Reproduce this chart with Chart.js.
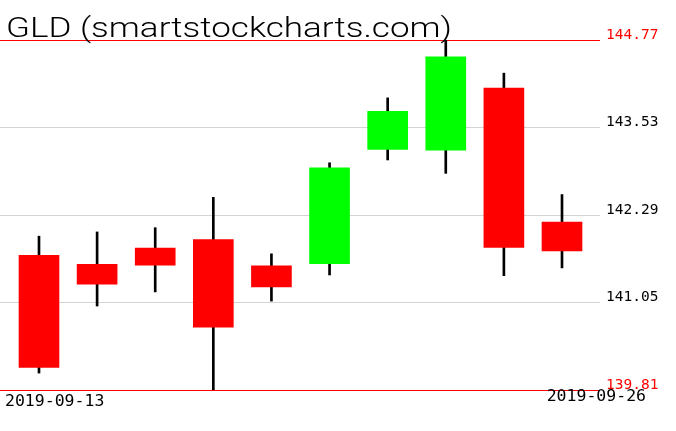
<!DOCTYPE html>
<html>
<head>
<meta charset="utf-8">
<script src="https://cdn.jsdelivr.net/npm/chart.js@4/dist/chart.umd.min.js"></script>
<style>
  html, body { margin: 0; padding: 0; background: #fff; }
</style>
</head>
<body>
<canvas id="gldChart" width="676" height="431"></canvas>
<script>
const title = "GLD (smartstockcharts.com)";
const dates = ["2019-09-13", "2019-09-16", "2019-09-17", "2019-09-18", "2019-09-19",
  "2019-09-20", "2019-09-23", "2019-09-24", "2019-09-25", "2019-09-26"];
const open = [141.72, 141.59, 141.82, 141.94, 141.57, 141.60, 143.22, 143.21, 144.09, 142.19];
const high = [141.99, 142.05, 142.11, 142.54, 141.74, 143.03, 143.95, 144.77, 144.30, 142.58];
const low = [140.05, 141.00, 141.20, 139.81, 141.07, 141.44, 143.07, 142.88, 141.43, 141.54];
const close = [140.13, 141.31, 141.58, 140.70, 141.27, 142.96, 143.76, 144.53, 141.83, 141.78];
const yTicks = [139.81, 141.05, 142.29, 143.53, 144.77];

const yMin = yTicks[0];
const yMax = yTicks[yTicks.length - 1];

// candle body colour: green when it closed up, red when down
const bodyColors = open.map((o, i) => (close[i] >= o ? "#00ff00" : "#ff0000"));

// title and the two date labels
const overlay = {
  id: "overlay",
  afterDraw(chart) {
    const c = chart.ctx;
    const area = chart.chartArea;
    c.save();
    c.fillStyle = "#000";
    c.font = "300 27px Roboto";
    const w = c.measureText(title).width;
    c.translate(area.left + 6, 37);
    c.scale(446 / w, 1);
    c.fillText(title, 0, 0);
    c.restore();

    c.save();
    c.fillStyle = "#000";
    c.font = "16.5px 'DejaVu Sans Mono'";
    c.textAlign = "left";
    c.fillText(dates[0], area.left + 5, area.bottom + 16);
    c.textAlign = "right";
    c.fillText(dates[dates.length - 1], area.right + 46, area.bottom + 11);
    c.restore();
  },
};

const ctx = document.getElementById("gldChart").getContext("2d");
const chart = new Chart(ctx, {
  type: "bar",
  data: {
    datasets: [
      {
        label: "body",
        data: dates.map((d, i) => ({ x: i, y: [open[i], close[i]] })),
        backgroundColor: bodyColors,
        borderWidth: 0,
        barThickness: 40,
        grouped: false,
      },
      {
        label: "wick",
        data: dates.map((d, i) => ({ x: i, y: [low[i], high[i]] })),
        backgroundColor: "#000",
        borderWidth: 0,
        barThickness: 2,
        grouped: false,
      },
    ],
  },
  options: {
    responsive: false,
    animation: false,
    layout: { padding: { top: 40, bottom: 41, left: 0, right: 0 } },
    plugins: {
      legend: { display: false },
      tooltip: { enabled: false },
    },
    scales: {
      x: {
        type: "linear",
        offset: false,
        min: -0.671,
        max: 9.654,
        display: false,
      },
      y: {
        position: "right",
        min: yMin,
        max: yMax,
        afterBuildTicks: (scale) => {
          scale.ticks = yTicks.map((v) => ({ value: v }));
        },
        afterFit: (scale) => {
          scale.width = 76;
        },
        border: { display: false },
        grid: {
          drawTicks: false,
          lineWidth: 1,
          color: (c) =>
            c.tick && (c.tick.value === yMin || c.tick.value === yMax) ? "#ff0000" : "#d3d3d3",
        },
        ticks: {
          padding: 6,
          labelOffset: -5,
          font: { family: "DejaVu Sans Mono", size: 14.5 },
          color: (c) =>
            c.tick && (c.tick.value === yMin || c.tick.value === yMax) ? "#ff0000" : "#000",
          callback: (v) => v.toFixed(2),
        },
      },
    },
  },
  plugins: [overlay],
});
</script>
</body>
</html>
